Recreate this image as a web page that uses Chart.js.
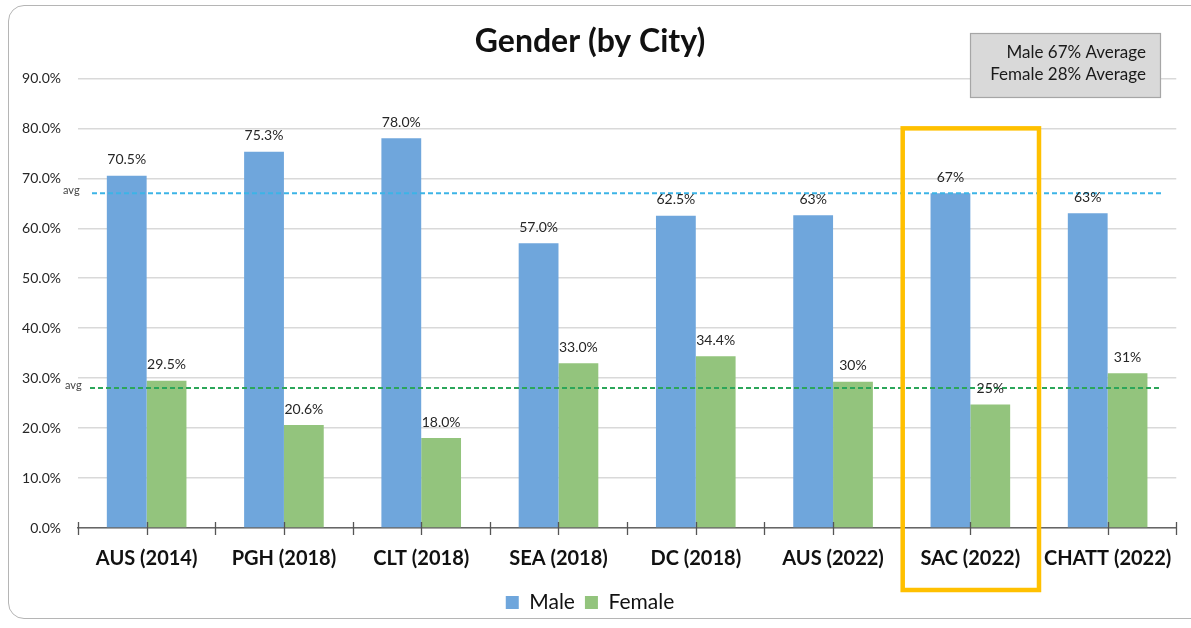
<!DOCTYPE html>
<html>
<head>
<meta charset="utf-8">
<script src="https://cdn.jsdelivr.net/npm/chart.js@4.4.1/dist/chart.umd.min.js"></script>
<style>
  html, body { margin: 0; padding: 0; background: #fff; overflow: hidden; }
  #frame {
    position: absolute; left: 8px; top: 5px; width: 1200px; height: 614px;
    border: 1.5px solid #b5b5b5; border-radius: 16px; box-sizing: border-box;
  }
  #wrap { position: absolute; left: 0; top: 0; width: 1191px; height: 628px; }
</style>
</head>
<body>
<div id="frame"></div>
<div id="wrap"><canvas id="genderChart" width="1191" height="628"></canvas></div>
<script>
// categories and values
const cities = ['AUS (2014)', 'PGH (2018)', 'CLT (2018)', 'SEA (2018)', 'DC (2018)', 'AUS (2022)', 'SAC (2022)', 'CHATT (2022)'];
const maleValues = [70.5, 75.3, 78.0, 57.0, 62.5, 62.6, 67.0, 63.0];
const femaleValues = [29.5, 20.6, 18.0, 33.0, 34.4, 29.3, 24.7, 31.0];
const maleLabels = ['70.5%', '75.3%', '78.0%', '57.0%', '62.5%', '63%', '67%', '63%'];
const femaleLabels = ['29.5%', '20.6%', '18.0%', '33.0%', '34.4%', '30%', '25%', '31%'];
const maleAvg = 67;
const femaleAvg = 28;
const avgNote = ['Male 67% Average', 'Female 28% Average'];
const highlightCity = 'SAC (2022)';

const FONT = 'Lato, "Open Sans", sans-serif';

// little tick marks on the x axis, at the category edges and centers
const axisTicks = {
  id: 'axisTicks',
  afterDraw(chart) {
    const x = chart.scales.x, ctx = chart.ctx;
    const y0 = x.top;
    const w = (x.right - x.left) / cities.length;
    ctx.save();
    ctx.strokeStyle = '#555';
    ctx.lineWidth = 1.3;
    for (let i = 0; i <= cities.length * 2; i++) {
      const px = Math.round(x.left + i * w / 2) + 0.5;
      ctx.beginPath();
      ctx.moveTo(px, y0 - 6);
      ctx.lineTo(px, y0 + 7);
      ctx.stroke();
    }
    ctx.restore();
  }
};

// dashed average lines with the small "avg" marks
const avgLines = {
  id: 'avgLines',
  afterDatasetsDraw(chart) {
    const { ctx, chartArea } = chart;
    const y = chart.scales.y;
    const lines = [[maleAvg, '#3cb4e6', 14], [femaleAvg, '#2ca65a', 12]];
    ctx.save();
    lines.forEach(([v, col, off]) => {
      const py = y.getPixelForValue(v);
      ctx.strokeStyle = col;
      ctx.lineWidth = 2;
      ctx.setLineDash([5, 3]);
      ctx.beginPath();
      ctx.moveTo(chartArea.left + off, py);
      ctx.lineTo(chartArea.right - 15, py);
      ctx.stroke();
      ctx.setLineDash([]);
      ctx.fillStyle = '#444';
      ctx.font = '11px ' + FONT;
      ctx.textAlign = 'left';
      ctx.textBaseline = 'middle';
      ctx.fillText('avg', chartArea.left - 15 + (off === 12 ? 2 : 0), py - 3);
    });
    ctx.restore();
  }
};

// value labels above the bars
const barLabels = {
  id: 'barLabels',
  afterDatasetsDraw(chart) {
    const ctx = chart.ctx;
    const texts = [maleLabels, femaleLabels];
    ctx.save();
    ctx.fillStyle = '#262626';
    ctx.font = '14px ' + FONT;
    ctx.textAlign = 'center';
    ctx.textBaseline = 'middle';
    chart.data.datasets.forEach((ds, di) => {
      chart.getDatasetMeta(di).data.forEach((bar, i) => {
        ctx.fillText(texts[di][i], bar.x, bar.y - 16);
      });
    });
    ctx.restore();
  }
};

// yellow frame round the highlighted city and the note box
const extras = {
  id: 'extras',
  afterDraw(chart) {
    const { ctx, chartArea } = chart;
    const x = chart.scales.x, y = chart.scales.y;
    const idx = cities.indexOf(highlightCity);
    const w = (x.right - x.left) / cities.length;
    ctx.save();
    ctx.strokeStyle = '#ffc000';
    ctx.lineWidth = 4.5;
    ctx.strokeRect(x.left + idx * w + 1, y.getPixelForValue(80), w - 1, chartArea.bottom + 62 - y.getPixelForValue(80));

    ctx.fillStyle = '#d9d9d9';
    ctx.fillRect(970, 33, 190, 64);
    ctx.strokeStyle = '#a6a6a6';
    ctx.lineWidth = 1.2;
    ctx.strokeRect(970.5, 33.5, 190, 64);
    ctx.fillStyle = '#1a1a1a';
    ctx.font = '17px ' + FONT;
    ctx.textAlign = 'right';
    ctx.textBaseline = 'middle';
    ctx.fillText(avgNote[0], 1146, 53);
    ctx.fillText(avgNote[1], 1146, 75);
    ctx.restore();
  }
};

new Chart(document.getElementById('genderChart'), {
  type: 'bar',
  data: {
    labels: cities,
    datasets: [
      { label: 'Male', data: maleValues, backgroundColor: '#6fa6dc', borderWidth: 0 },
      { label: 'Female', data: femaleValues, backgroundColor: '#93c47d', borderWidth: 0 }
    ]
  },
  options: {
    responsive: false,
    animation: false,
    layout: { padding: { left: 0, right: 11, top: 0, bottom: 5 } },
    datasets: { bar: { categoryPercentage: 0.58, barPercentage: 1.0 } },
    plugins: {
      title: {
        display: true,
        text: 'Gender (by City)',
        color: '#111',
        font: { family: FONT, size: 32, weight: 'bold' },
        padding: { top: 22, bottom: 18 }
      },
      legend: {
        position: 'bottom',
        labels: {
          boxWidth: 13, boxHeight: 13, padding: 10,
          color: '#111',
          font: { family: FONT, size: 21 }
        }
      },
      tooltip: { enabled: false }
    },
    scales: {
      x: {
        grid: { display: false, drawTicks: false },
        border: { display: true, color: '#666', width: 1.5 },
        ticks: {
          color: '#111', padding: 19, maxRotation: 0, minRotation: 0, autoSkip: false,
          font: { family: FONT, size: 20, weight: 'bold' }
        },
        afterFit(scale) { scale.height = 54; }
      },
      y: {
        min: 0, max: 90,
        grid: { color: '#d9d9d9', lineWidth: 1.5, drawTicks: false },
        border: { display: false },
        ticks: {
          stepSize: 10, padding: 17, color: '#262626',
          font: { family: FONT, size: 14 },
          callback: v => v.toFixed(1) + '%'
        },
        afterFit(scale) { scale.width = 78; }
      }
    }
  },
  plugins: [axisTicks, avgLines, barLabels, extras]
});
</script>
</body>
</html>
